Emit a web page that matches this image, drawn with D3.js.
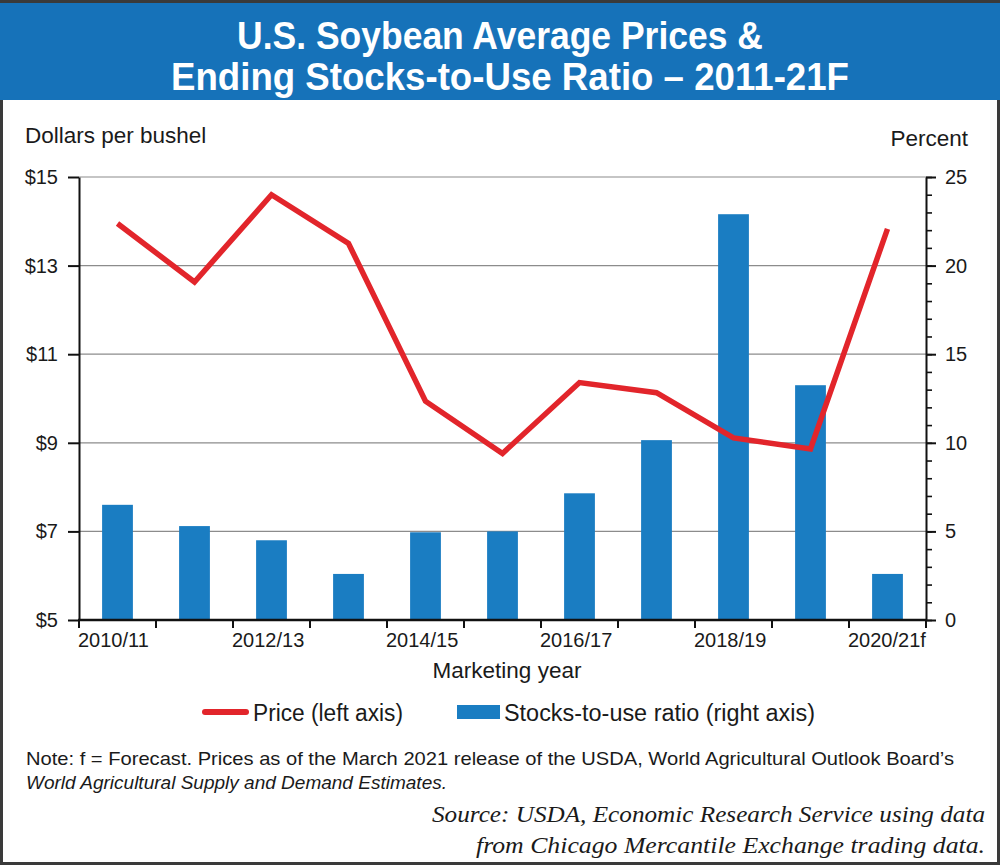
<!DOCTYPE html>
<html>
<head>
<meta charset="utf-8">
<script src="https://cdn.jsdelivr.net/npm/d3@7/dist/d3.min.js"></script>
<style>
  html, body { margin: 0; padding: 0; background: #fff; }
  svg { display: block; }
  text { font-family: "Liberation Sans", Arial, Helvetica, sans-serif; fill: #1a1a1a; }
</style>
</head>
<body>
<svg id="chart" width="1000" height="865"></svg>
<script>
// ---- data ----
const categories = ["2010/11","2011/12","2012/13","2013/14","2014/15","2015/16","2016/17","2017/18","2018/19","2019/20","2020/21f"];
const tickLabels = ["2010/11","","2012/13","","2014/15","","2016/17","","2018/19","","2020/21f"];
const price = [13.95, 12.63, 14.6, 13.5, 9.94, 8.76, 10.36, 10.13, 9.11, 8.86, 13.83];
const stocksToUse = [6.5, 5.3, 4.5, 2.6, 4.95, 5.0, 7.15, 10.15, 22.9, 13.25, 2.6];
const priceTicks = [5, 7, 9, 11, 13, 15];
const percentTicks = [0, 5, 10, 15, 20, 25];
const titleLines = ["U.S. Soybean Average Prices &", "Ending Stocks-to-Use Ratio \u2013 2011-21F"];

(function () {
const svg = d3.select("#chart");
const W = 1000, H = 865;
const pLeft = 79, pRight = 926, pTop = 177, pBottom = 620;

const blue = "#1a7dc2", red = "#e2252b", titleBlue = "#1672b9";

// frame
svg.append("rect").attr("x", 1.5).attr("y", 1.5).attr("width", W - 3).attr("height", H - 3)
  .attr("fill", "#fff").attr("stroke", "#3a3a3a").attr("stroke-width", 3);
svg.append("rect").attr("x", 0).attr("y", 3).attr("width", W).attr("height", 97).attr("fill", titleBlue);

// title
const titleX = [500, 510];
const titleW = [526, 678];
titleLines.forEach((t, i) => {
  svg.append("text").attr("x", titleX[i]).attr("y", 49 + i * 41)
    .attr("text-anchor", "middle").attr("font-size", 38).attr("font-weight", "bold")
    .attr("textLength", titleW[i]).attr("lengthAdjust", "spacingAndGlyphs")
    .style("fill", "#fff").text(t);
});

// scales
const xOuter = d3.scaleBand().domain(categories).range([pLeft, pRight]).padding(0);
const xBar = d3.scaleBand().domain(categories).range([pLeft, pRight]).paddingInner(0.6).paddingOuter(0.3);
const yL = d3.scaleLinear().domain([5, 15]).range([pBottom, pTop]);
const yR = d3.scaleLinear().domain([0, 25]).range([pBottom, pTop]);

// gridlines
svg.append("g").selectAll("line").data(priceTicks.filter(d => d > 5)).join("line")
  .attr("x1", pLeft).attr("x2", pRight).attr("y1", d => yL(d)).attr("y2", d => yL(d))
  .attr("stroke", "#8c8c8c").attr("stroke-width", 1.2);

// bars
svg.append("g").selectAll("rect").data(categories).join("rect")
  .attr("x", d => xBar(d)).attr("width", xBar.bandwidth())
  .attr("y", (d, i) => yR(stocksToUse[i])).attr("height", (d, i) => yR(0) - yR(stocksToUse[i]))
  .attr("fill", blue);

// line
const line = d3.line().x((d, i) => xOuter(categories[i]) + xOuter.bandwidth() / 2).y(d => yL(d));
svg.append("path").datum(price).attr("d", line).attr("fill", "none")
  .attr("stroke", red).attr("stroke-width", 5.5).attr("stroke-linejoin", "miter");

// left axis
const gL = svg.append("g").attr("transform", `translate(${pLeft},0)`)
  .call(d3.axisLeft(yL).tickValues(priceTicks).tickSize(11).tickSizeOuter(0).tickPadding(10).tickFormat(d => "$" + d));
gL.attr("font-family", null);
gL.select(".domain").attr("stroke", "#111").attr("stroke-width", 2);
gL.selectAll(".tick line").attr("stroke", "#111").attr("stroke-width", 2);
gL.selectAll(".tick text").attr("font-size", 20).style("fill", "#1a1a1a");

// right axis minor
const gRm = svg.append("g").attr("transform", `translate(${pRight},0)`)
  .call(d3.axisRight(yR).ticks(25).tickSize(6).tickSizeOuter(0).tickFormat(""));
gRm.select(".domain").attr("stroke", "#111").attr("stroke-width", 2);
gRm.selectAll(".tick line").attr("stroke", "#111").attr("stroke-width", 1.6);
// right axis major
const gR = svg.append("g").attr("transform", `translate(${pRight},0)`)
  .call(d3.axisRight(yR).tickValues(percentTicks).tickSize(10).tickSizeOuter(0).tickPadding(9));
gR.attr("font-family", null);
gR.select(".domain").remove();
gR.selectAll(".tick line").attr("stroke", "#111").attr("stroke-width", 2);
gR.selectAll(".tick text").attr("font-size", 20).style("fill", "#1a1a1a");

// bottom axis
const gB = svg.append("g");
gB.append("line").attr("x1", pLeft - 1).attr("x2", pRight + 1).attr("y1", pBottom).attr("y2", pBottom)
  .attr("stroke", "#111").attr("stroke-width", 2.5);
const boundaries = categories.map(c => xOuter(c)).concat([xOuter.range()[1]]);
gB.selectAll("line.tk").data(boundaries).join("line").attr("class", "tk")
  .attr("x1", d => d).attr("x2", d => d).attr("y1", pBottom).attr("y2", pBottom + 8)
  .attr("stroke", "#111").attr("stroke-width", 2);
gB.selectAll("text").data(categories).join("text")
  .attr("x", d => xOuter(d) - 1).attr("y", 647).attr("font-size", 20)
  .text((d, i) => tickLabels[i]);

// axis titles
svg.append("text").attr("x", 25).attr("y", 143).attr("font-size", 22.5).text("Dollars per bushel");
svg.append("text").attr("x", 968).attr("y", 146).attr("font-size", 22.5).attr("text-anchor", "end").text("Percent");
svg.append("text").attr("x", 507).attr("y", 678).attr("font-size", 22.5).attr("text-anchor", "middle").text("Marketing year");

// legend
const lg = svg.append("g");
lg.append("line").attr("x1", 205).attr("x2", 246).attr("y1", 712).attr("y2", 712)
  .attr("stroke", red).attr("stroke-width", 6).attr("stroke-linecap", "round");
lg.append("text").attr("x", 253).attr("y", 721).attr("font-size", 23)
  .attr("textLength", 150).attr("lengthAdjust", "spacingAndGlyphs").text("Price (left axis)");
lg.append("rect").attr("x", 457).attr("y", 705).attr("width", 43).attr("height", 14).attr("fill", blue);
lg.append("text").attr("x", 504).attr("y", 721).attr("font-size", 23)
  .attr("textLength", 311).attr("lengthAdjust", "spacingAndGlyphs").text("Stocks-to-use ratio (right axis)");

// note
svg.append("text").attr("x", 26).attr("y", 765).attr("font-size", 18.5)
  .attr("textLength", 928).attr("lengthAdjust", "spacingAndGlyphs")
  .text("Note: f = Forecast. Prices as of the March 2021 release of the USDA, World Agricultural Outlook Board\u2019s");
svg.append("text").attr("x", 26).attr("y", 789).attr("font-size", 18.5).attr("font-style", "italic")
  .attr("textLength", 421).attr("lengthAdjust", "spacingAndGlyphs")
  .text("World Agricultural Supply and Demand Estimates.");

// source
const src = ["Source: USDA, Economic Research Service using data", "from Chicago Mercantile Exchange trading data."];
const srcW = [553, 509];
src.forEach((t, i) => {
  svg.append("text").attr("x", 985).attr("y", 822 + i * 31).attr("text-anchor", "end")
    .attr("font-size", 24).attr("font-style", "italic")
    .attr("textLength", srcW[i]).attr("lengthAdjust", "spacingAndGlyphs")
    .style("font-family", "'Liberation Serif', 'DejaVu Serif', serif").text(t);
});
})();
</script>
</body>
</html>
